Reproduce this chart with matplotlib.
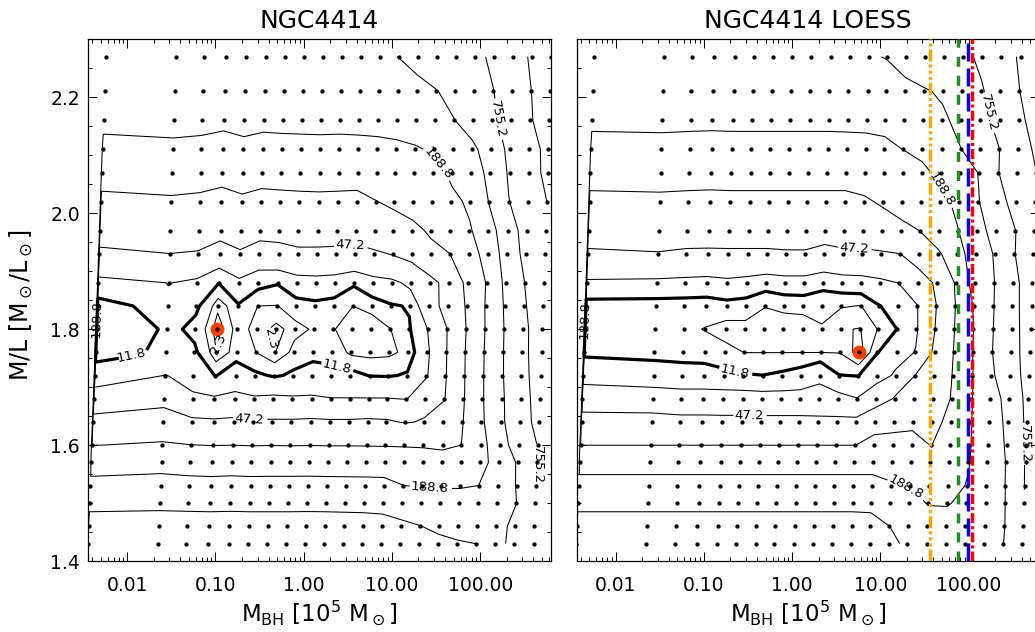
import numpy as np
import matplotlib.pyplot as plt
from matplotlib.ticker import FixedLocator, FuncFormatter, LogLocator, MultipleLocator, NullFormatter

plt.rcParams['font.family'] = ['DejaVu Sans']
plt.rcParams['mathtext.fontset'] = 'dejavusans'
plt.rcParams['lines.scale_dashes'] = False

# model grid: BH mass per unit M/L (10^5 Msun) and the M/L values of the rows
mbh_per_ml = np.array([0.00250, 0.0156, 0.0327, 0.0579, 0.0984, 0.163, 0.269, 0.441,
                       0.730, 1.20, 1.97, 3.24, 5.27, 8.67, 14.2, 23.4, 38.4, 63.1,
                       104.0, 171.0, 282.0])
ml_grid = np.array([2.27, 2.21, 2.16, 2.11, 2.07, 2.02, 1.97, 1.93, 1.88, 1.84, 1.80,
                    1.76, 1.72, 1.68, 1.64, 1.60, 1.57, 1.53, 1.50, 1.46, 1.43])

# delta chi^2, one row per M/L value, one column per mass
chi2_ngc4414 = np.array([
    [345, 350, 345, 340, 348, 342, 344, 345, 346, 345, 350, 360, 380, 430, 500, 580, 660, 850, 1150, 1650, 2300],
    [280, 288, 282, 275, 284, 277, 279, 280, 281, 280, 283, 290, 305, 330, 368, 450, 560, 740, 1050, 1500, 2100],
    [210, 216, 212, 205, 214, 207, 209, 210, 211, 210, 212, 215, 222, 250, 300, 372, 480, 680, 1000, 1450, 2000],
    [165, 171, 167, 160, 169, 162, 164, 165, 166, 165, 166, 168, 172, 178, 205, 250, 330, 520, 880, 1200, 1800],
    [120, 126, 122, 115, 124, 117, 119, 120, 121, 120, 120, 122, 125, 132, 150, 215, 300, 430, 820, 1250, 1700],
    [80, 86, 82, 74, 84, 76, 78, 80, 81, 80, 78, 93, 105, 120, 135, 160, 215, 390, 740, 1100, 1510],
    [60, 66, 62, 57, 62, 56, 57, 60, 60, 60, 59, 62, 68, 80, 105, 140, 175, 300, 520, 1000, 1450],
    [42, 47, 45, 35, 44, 36, 38, 42, 42, 41, 40, 44, 48.5, 55, 75, 94, 150, 230, 500, 900, 1400],
    [19, 24, 20, 12, 20, 14, 12.3, 17, 18, 17, 12.8, 18, 20, 28, 38, 60, 108, 195, 430, 760, 1100],
    [8, 21, 13, 3.3, 11, 6.2, 6.0, 9, 10, 9, 6.2, 8, 11, 12.5, 40, 55, 100, 195, 400, 720, 1050],
    [7, 13.3, 10, 0, 8.5, 4, 1.0, 4.5, 7, 6.5, 3, 3, 6.0, 11, 24, 47, 94, 189, 380, 680, 1000],
    [8, 15.6, 13, 2.5, 9, 6.2, 2.2, 8, 9, 9, 5, 4.5, 5, 8, 21, 46, 94, 189, 375, 670, 990],
    [17, 24, 18, 11.5, 16, 13, 11, 13, 16, 14, 14, 11.5, 11.3, 12.5, 22, 45, 92, 185, 365, 650, 960],
    [30, 38, 26, 25, 27, 25, 26, 25, 25, 24, 24, 24, 24, 23, 35, 46, 90, 180, 345, 620, 920],
    [56, 62, 52, 50.5, 52, 50, 50, 50, 51, 50, 50, 51, 50, 45, 50, 60, 92, 170, 330, 600, 880],
    [94, 100, 95, 93, 94, 92, 93, 92, 93, 92, 92, 91, 90, 88, 86, 80, 95, 150, 280, 520, 770],
    [150, 160, 152, 150, 152, 150, 150, 150, 151, 150, 150, 150, 150, 148, 140, 130, 135, 150, 250, 400, 760],
    [215, 220, 216, 214, 216, 214, 215, 215, 215, 214, 213, 212, 210, 190, 178, 172, 175, 190, 260, 390, 720],
    [340, 345, 342, 340, 342, 340, 340, 340, 341, 340, 338, 336, 330, 320, 300, 280, 260, 240, 270, 375, 700],
    [440, 445, 442, 440, 442, 440, 440, 440, 441, 440, 438, 436, 430, 400, 380, 350, 330, 320, 330, 420, 680],
    [540, 545, 542, 540, 542, 540, 540, 540, 541, 540, 538, 534, 520, 480, 440, 410, 390, 377, 330, 430, 650],
])

chi2_loess = np.array([
    [350, 352, 350, 348, 350, 350, 350, 350, 350, 350, 355, 365, 385, 450, 520, 600, 690, 830, 1200, 1620, 2300],
    [285, 287, 285, 284, 285, 285, 285, 285, 285, 285, 287, 290, 305, 330, 360, 410, 520, 720, 1000, 1500, 2100],
    [205, 207, 205, 204, 205, 205, 205, 205, 205, 205, 206, 207, 210, 225, 270, 340, 460, 640, 900, 1350, 1900],
    [162, 164, 162, 161, 162, 162, 162, 162, 162, 162, 163, 165, 172, 190, 215, 270, 370, 520, 740, 1200, 1650],
    [118, 120, 118, 117, 118, 118, 118, 118, 118, 118, 118, 119, 122, 135, 165, 220, 290, 385, 740, 1100, 1500],
    [80, 82, 80, 79, 80, 80, 80, 80, 80, 80, 80, 88, 102, 118, 135, 160, 220, 365, 560, 1000, 1400],
    [58, 60, 58, 57, 58, 58, 58, 58, 58, 58, 58, 58, 63, 80, 95, 135, 185, 300, 480, 740, 1200],
    [44, 46, 44, 44, 44, 44, 44, 45, 45, 40, 44, 44, 45, 47, 60, 85, 150, 260, 400, 740, 1150],
    [21, 20, 19, 18, 20, 18, 15, 17, 17, 14, 16, 17, 20, 24, 35, 52, 100, 240, 375, 650, 1050],
    [8, 8, 8, 8, 9, 8.5, 6.3, 7, 7.5, 7.5, 6.5, 6.0, 11.5, 16, 23, 47, 94, 200, 370, 650, 1000],
    [6.5, 7, 6.8, 6.0, 4.5, 4.8, 4.5, 4.3, 4.0, 5.8, 2.6, 2.1, 6.5, 12, 22, 48, 94, 188, 370, 620, 1000],
    [10, 9, 8.5, 8, 7.5, 6.1, 6.1, 6.1, 6.1, 6.1, 6.0, 0, 11.5, 20, 24, 52, 95, 188, 370, 600, 980],
    [19, 17, 16, 16, 13.5, 12.3, 11.9, 13, 15, 20, 12, 11.5, 20, 25, 47, 60, 96, 180, 340, 560, 950],
    [31, 30, 29, 29, 30, 30, 29, 29, 29, 30, 28, 24, 30, 50, 60, 70, 97, 180, 300, 450, 900],
    [59, 58, 55, 55, 54, 54, 54, 54, 54, 53, 53, 53, 75, 80, 85, 80, 110, 180, 290, 420, 850],
    [94, 94, 94, 94, 94, 94, 94, 94, 94, 94, 94, 94, 110, 111, 110, 93, 125, 180, 280, 400, 800],
    [160, 160, 160, 160, 160, 160, 160, 160, 160, 160, 160, 160, 160, 158, 150, 130, 135, 183, 260, 385, 780],
    [215, 215, 215, 215, 215, 215, 215, 215, 215, 215, 215, 215, 215, 195, 180, 165, 165, 193, 280, 380, 760],
    [340, 340, 340, 340, 340, 340, 340, 340, 340, 340, 340, 340, 340, 300, 230, 180, 180, 230, 280, 370, 740],
    [440, 440, 440, 440, 440, 440, 440, 440, 440, 440, 440, 440, 430, 378, 330, 260, 240, 240, 270, 360, 700],
    [540, 540, 540, 540, 540, 540, 540, 540, 540, 540, 540, 540, 520, 420, 340, 300, 270, 260, 280, 370, 650],
])

levels = [2.3, 6.18, 11.8, 23.6, 47.2, 94.4, 188.8, 377.6, 755.2, 1510.4]

# reference black hole masses (10^5 Msun) on the LOESS panel
ref_mbh = [36.9, 75.5, 98.6, 109.6]
ref_colors = ['#ffa500', '#228b22', '#0000ff', '#ff0000']
ref_dashes = [(0, (8.6, 2.2, 2.2, 2.2, 2.2, 2.2, 2.2, 2.2)),
              (0, (7.2, 6.5)),
              (0, (13.0, 5.0)),
              (0, (7.2, 2.2, 2.2, 2.2))]

# where the contour labels sit (M_BH, M/L)
labels_ngc4414 = {
    188.8: [(0.0041, 1.818), (33.3, 2.086), (27.0, 1.528)],
    11.8: [(0.011, 1.758), (2.39, 1.739)],
    2.3: [(0.107, 1.775), (0.473, 1.785)],
    47.2: [(0.246, 1.652), (3.35, 1.950)],
    755.2: [(160, 2.162), (430, 1.566)],
}
labels_loess = {
    188.8: [(0.0045, 1.815), (50.2, 2.041), (19.1, 1.521)],
    11.8: [(0.227, 1.732)],
    47.2: [(5.01, 1.955), (0.324, 1.651)],
    755.2: [(169, 2.173), (437, 1.602)],
}

fig = plt.figure(figsize=(10.35, 6.32), dpi=100)
ax1 = fig.add_axes([0.0853, 0.1123, 0.4468, 0.8255])
ax2 = fig.add_axes([0.5572, 0.1123, 0.4468, 0.8255])


def setup_axes(ax, title):
    ax.set_xscale('log')
    ax.set_xlim(0.003614, 631)
    ax.set_ylim(1.4, 2.3)
    ax.xaxis.set_major_locator(FixedLocator([0.01, 0.1, 1, 10, 100]))
    ax.xaxis.set_major_formatter(FuncFormatter(lambda v, p: '%.2f' % v))
    ax.xaxis.set_minor_locator(LogLocator(base=10, subs=np.arange(2, 10), numticks=30))
    ax.xaxis.set_minor_formatter(NullFormatter())
    ax.yaxis.set_major_locator(MultipleLocator(0.2))
    ax.yaxis.set_minor_locator(MultipleLocator(0.05))
    ax.yaxis.set_major_formatter(FuncFormatter(lambda v, p: '%.1f' % v))
    ax.tick_params(which='both', direction='in', top=True, right=True, width=0.7)
    ax.tick_params(which='major', length=6.5)
    ax.tick_params(which='minor', length=3.2)
    ax.tick_params(axis='x', which='major', labelsize=13.5, pad=11)
    ax.tick_params(axis='y', which='major', labelsize=13.5, pad=6)
    for s in ax.spines.values():
        s.set_linewidth(0.9)
    ax.set_title(title, fontsize=18, pad=8)


def draw_panel(ax, chi2, labels):
    X = mbh_per_ml[None, :] * ml_grid[:, None]
    Y = np.repeat(ml_grid[:, None], len(mbh_per_ml), axis=1)
    # close the contours along the low-mass edge of the grid, as IDL does
    Xc = np.column_stack([X[:, 0] * 0.98, X])
    Yc = np.column_stack([Y[:, 0], Y])
    Zc = np.column_stack([np.full(len(ml_grid), 200.0), chi2])
    for lev in levels:
        lw = 2.3 if lev == 11.8 else 0.75
        cs = ax.contour(Xc, Yc, Zc, levels=[lev], colors='k', linewidths=lw)
        if lev in labels:
            cs.clabel(manual=labels[lev], fmt='%.1f', fontsize=9.5,
                      inline=True, inline_spacing=2)
    ax.set_xlim(0.003614, 631)
    ax.set_ylim(1.4, 2.3)
    i, j = np.unravel_index(np.argmin(chi2), chi2.shape)
    ax.plot(X[i, j], Y[i, j], 'o', ms=10, color='#ff3d00', mec='none', zorder=3)
    ax.plot(X.ravel(), Y.ravel(), 'o', ms=3.1, color='k', mec='none', zorder=4)


setup_axes(ax1, 'NGC4414')
setup_axes(ax2, 'NGC4414 LOESS')
ax2.tick_params(labelleft=False)
draw_panel(ax1, chi2_ngc4414, labels_ngc4414)
draw_panel(ax2, chi2_loess, labels_loess)

for m, c, d in zip(ref_mbh, ref_colors, ref_dashes):
    ax2.axvline(m, color=c, lw=2.5, linestyle=d, zorder=5)

xlab = 'M$_{\\rm BH}$ [10$^5$ M$_\\odot$]'
fig.text(319.5 / 1035, 1 - 613 / 632, xlab, ha='center', va='center', fontsize=16.5)
fig.text(807.9 / 1035, 1 - 613 / 632, xlab, ha='center', va='center', fontsize=16.5)
fig.text(21 / 1035, 1 - 305 / 632, 'M/L [M$_\\odot$/L$_\\odot$]', rotation=90,
         ha='center', va='center', fontsize=17)

fig.savefig('out.png', dpi=100, facecolor='white')
